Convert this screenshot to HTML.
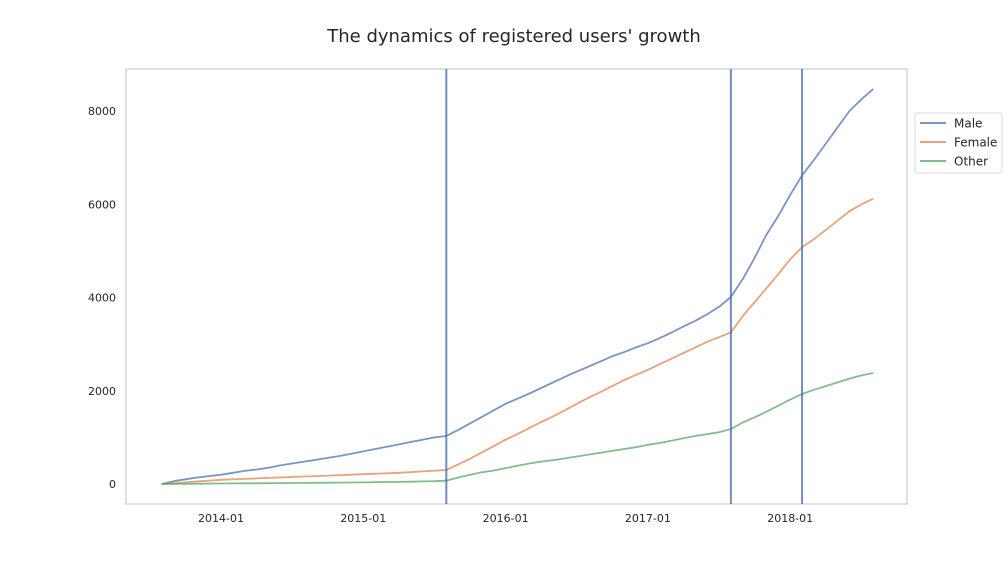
<!DOCTYPE html>
<html><head><meta charset="utf-8"><style>
body{margin:0;background:#fff;font-family:"Liberation Sans","DejaVu Sans",sans-serif}
</style></head><body>
<svg id="chart" width="1008" height="576" viewBox="0 0 1008 576">
<text x="514" y="42" text-anchor="middle" font-size="18" fill="#262626" font-family="DejaVu Sans, sans-serif">The dynamics of registered users' growth</text>
<rect x="126" y="69" width="781" height="435" fill="#fff" stroke="#cccccc" stroke-width="1.2"/>
<g id="axes"></g><g id="series"></g>
<g>
<rect x="915" y="113" width="87" height="60" rx="2" fill="#fff" stroke="#d9d9d9"/>
<line x1="920" y1="123" x2="946" y2="123" stroke="#4c72b0" stroke-opacity="0.75" stroke-width="2"/>
<text x="954" y="127.5" font-size="12" fill="#262626" font-family="DejaVu Sans, sans-serif">Male</text>
<line x1="920" y1="142" x2="946" y2="142" stroke="#dd8452" stroke-opacity="0.75" stroke-width="2"/>
<text x="954" y="146.5" font-size="12" fill="#262626" font-family="DejaVu Sans, sans-serif">Female</text>
<line x1="920" y1="161" x2="946" y2="161" stroke="#55a868" stroke-opacity="0.75" stroke-width="2"/>
<text x="954" y="165.5" font-size="12" fill="#262626" font-family="DejaVu Sans, sans-serif">Other</text>
</g>
</svg>
<script>
const male = [0,60,100,140,170,
200,240,280,310,350,400,440,480,520,560,600,650,
700,750,800,850,900,950,1000,1030,1160,1300,1440,1580,
1720,1830,1940,2060,2180,2300,2410,2520,2630,2740,2830,2930,
3020,3130,3250,3380,3500,3640,3800,4010,4400,4850,5350,5750,
6200,6620,6950,7300,7650,8000,8250,8470];
const female = [0,15,35,55,70,
90,100,110,120,130,140,150,160,170,180,190,200,
210,220,230,240,255,270,285,300,420,540,680,810,
950,1070,1200,1330,1450,1580,1720,1850,1970,2100,2230,2340,
2450,2570,2690,2810,2930,3050,3150,3250,3600,3900,4200,4500,
4820,5080,5250,5450,5650,5850,6000,6120];
const other = [0,2,4,6,8,
10,12,14,16,18,20,22,24,26,28,30,32,
35,38,42,46,50,55,60,70,140,200,250,290,
340,390,440,480,510,550,590,630,670,710,750,790,
840,880,930,980,1030,1070,1110,1180,1320,1430,1550,1680,
1810,1930,2020,2100,2180,2260,2330,2380];
const startMonth = 2013*12 + 7; // 2013-08
const yTicks = [0,2000,4000,6000,8000];
const xTickLabels = ["2014-01","2015-01","2016-01","2017-01","2018-01"];
const eventMonths = ["2015-08","2017-08","2018-02"];
const ns = "http://www.w3.org/2000/svg";
function mIdx(s){const [y,m]=s.split("-").map(Number);return y*12+m-1;}
function xs(m){return 221 + (m - mIdx("2014-01"))*(142.3/12);}
function ys(v){return 484 - v*(373/8000);}
const axes=document.getElementById("axes"), series=document.getElementById("series");
function mk(tag,attrs,parent){const e=document.createElementNS(ns,tag);for(const k in attrs)e.setAttribute(k,attrs[k]);parent.appendChild(e);return e;}
yTicks.forEach(v=>{
  const t=mk("text",{x:116,y:ys(v)+4,"text-anchor":"end","font-size":"11","fill":"#262626","font-family":"DejaVu Sans, sans-serif"},axes);
  t.textContent=v;
  
  
});
xTickLabels.forEach(s=>{
  const t=mk("text",{x:xs(mIdx(s)),y:522,"text-anchor":"middle","font-size":"11","fill":"#262626","font-family":"DejaVu Sans, sans-serif"},axes);
  t.textContent=s;
  
  
});
function line(arr,color,name){
  const pts=arr.map((v,i)=>xs(startMonth+i).toFixed(1)+","+ys(v).toFixed(1)).join(" ");
  const p=mk("polyline",{points:pts,fill:"none",stroke:color,"stroke-opacity":"0.75","stroke-width":"1.8","stroke-linejoin":"round"},series);
  
  
}
line(male,"#4c72b0","male-line");
line(female,"#dd8452","female-line");
line(other,"#55a868","other-line");
eventMonths.forEach(s=>{
  const x=xs(mIdx(s));
  const l=mk("line",{x1:x,x2:x,y1:69,y2:504,stroke:"#4c72b0","stroke-opacity":"0.8","stroke-width":"2"},series);
  
  
});
</script>
</body></html>
